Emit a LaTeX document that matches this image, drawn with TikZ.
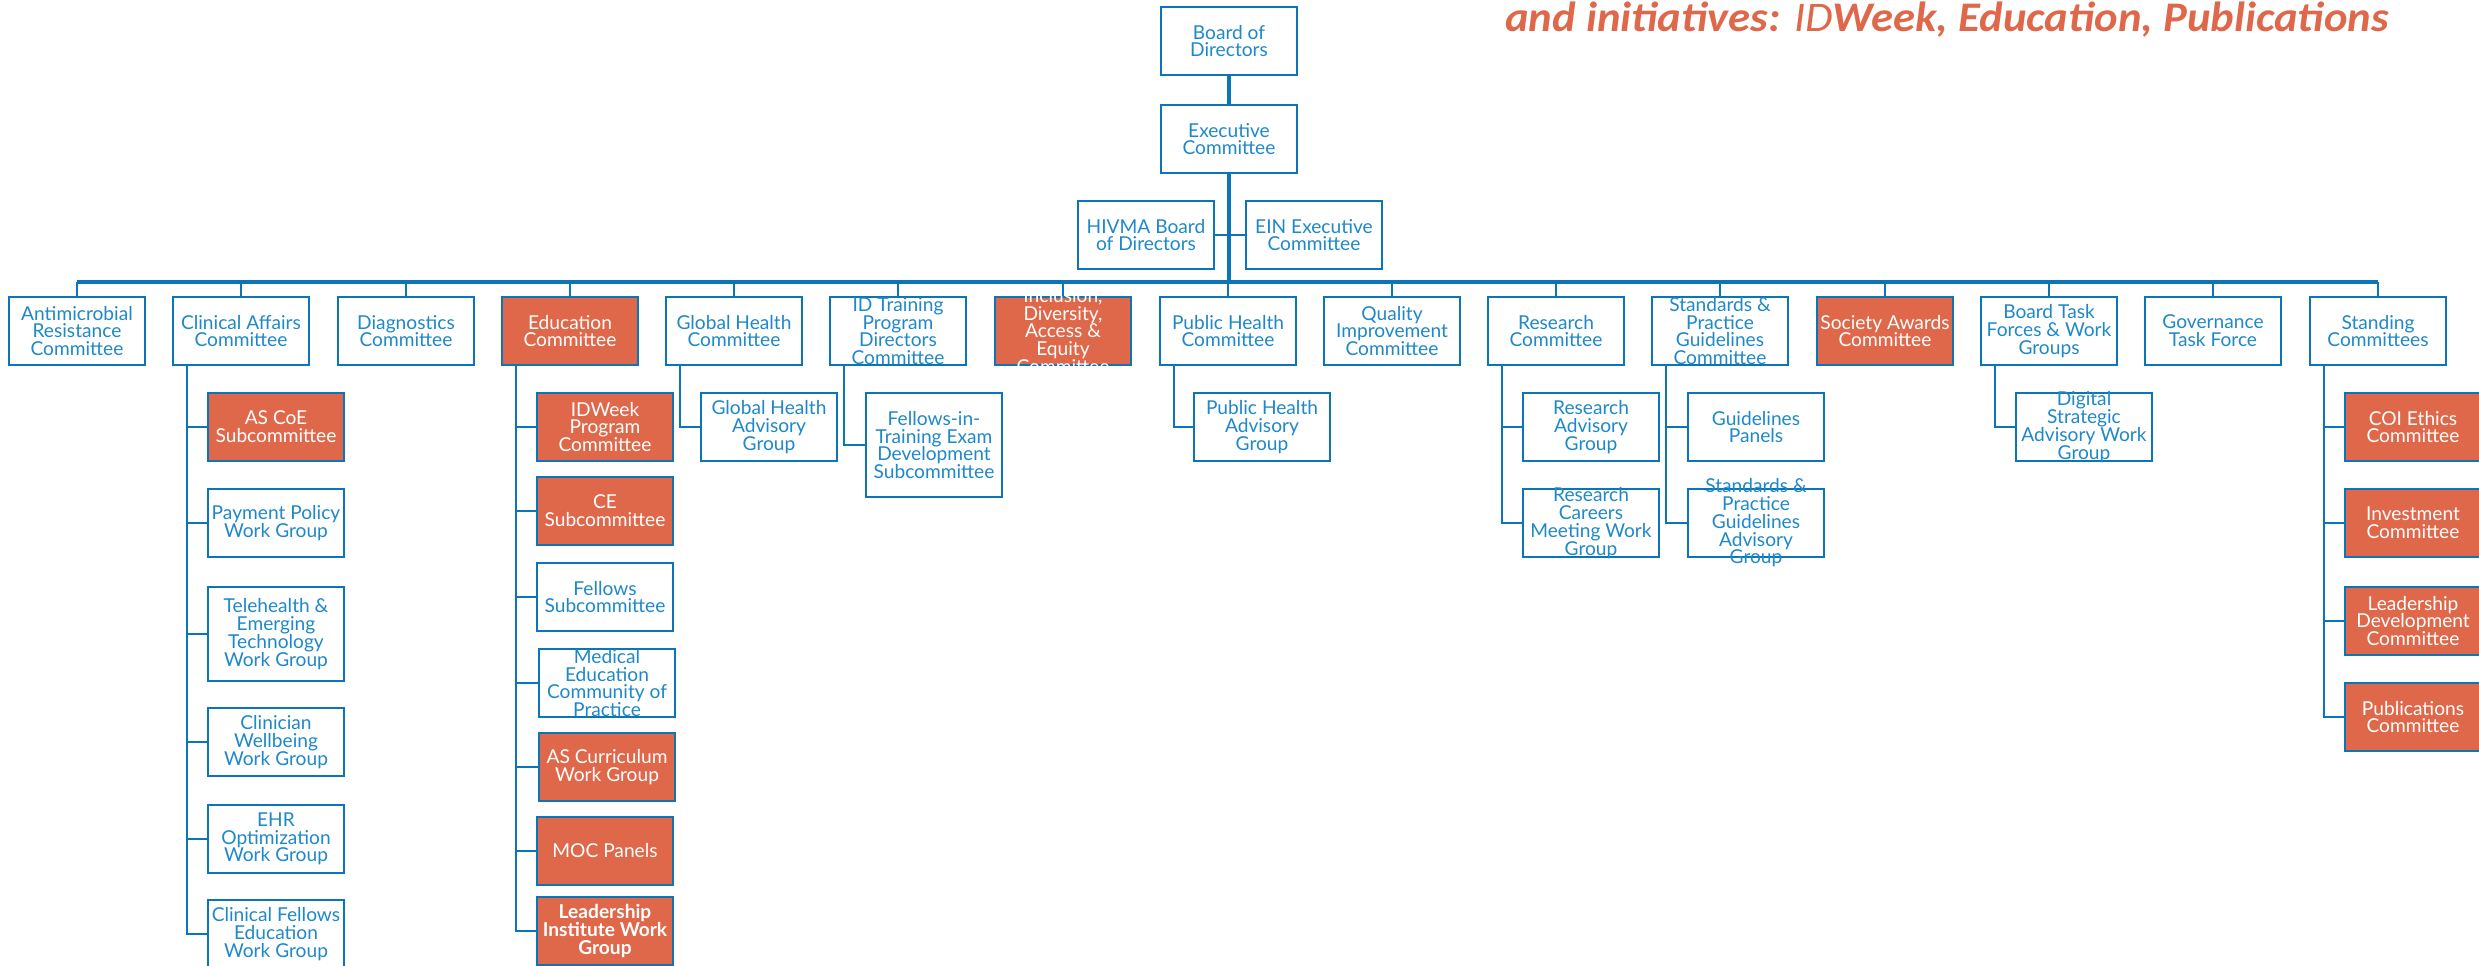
\documentclass[tikz,border=0pt]{standalone}
\usepackage{fontspec}
\setmainfont{Lato}
\newfontfamily\ttlfont{Carlito}
\usepackage{xcolor}
\usepackage{graphicx}
\usepackage{tikz}
\usetikzlibrary{positioning,calc}

\definecolor{orgblue}{RGB}{12,117,184}
\definecolor{orgtext}{RGB}{30,136,200}
\definecolor{orgred}{RGB}{223,104,74}

\begin{document}
\begin{tikzpicture}[x=0.02cm, y=-0.02cm,
      box/.style={rectangle, draw=orgblue, line width=1.4pt,
                  minimum width=2.72cm, minimum height=1.36cm,
                  inner xsep=1pt, inner ysep=-1cm, align=center,
                  text=orgtext, font=\fontsize{10.9}{10.1}\selectfont},
      hot/.style={box, fill=orgred, text=white},
      tall/.style={minimum height=#1},
      link/.style={draw=orgblue, line width=1.3pt},
      bar/.style={link, line width=1.8pt},
      trunk/.style={link, line width=2.6pt},
      ttl/.style={text=orgred, inner sep=0pt,
                  font=\ttlfont\fontsize{24}{24}\selectfont\bfseries\itshape},
    ]
    \useasboundingbox (0,0) rectangle (2479,966);

    % Heading
    \node[ttl, anchor=base west] (ttl) at (1505,32)
      {\scalebox{1.06}[1]{and initiatives: {\mdseries ID}Week, Education, Publications}};

    % Board and executive
    \node[box] (bod) at (1229,41) {Board of\\Directors};
    \node[box] (exec) at (1229,139) {Executive\\Committee};
    \node[box] (hivma) at (1146,235) {HIVMA Board\\of Directors};
    \node[box] (ein) at (1314,235) {EIN Executive\\Committee};
    \coordinate (hub) at (1229,282);

    % Committees
    \node[box] (amr) at (77,331) {Antimicrobial\\Resistance\\Committee};
    \node[box] (clin) at (241,331) {Clinical Affairs\\Committee};
    \node[box] (diag) at (406,331) {Diagnostics\\Committee};
    \node[hot] (edu) at (570,331) {Education\\Committee};
    \node[box] (glob) at (734,331) {Global Health\\Committee};
    \node[box] (idtp) at (898,331) {ID Training\\Program\\Directors\\Committee};
    \node[hot] (idea) at (1063,331) {Inclusion,\\Diversity,\\Access \&\\Equity\\Committee};
    \node[box] (pub) at (1228,331) {Public Health\\Committee};
    \node[box] (qual) at (1392,331) {Quality\\Improvement\\Committee};
    \node[box] (res) at (1556,331) {Research\\Committee};
    \node[box] (spg) at (1720,331) {Standards \&\\Practice\\Guidelines\\Committee};
    \node[hot] (award) at (1885,331) {Society Awards\\Committee};
    \node[box] (btf) at (2049,331) {Board Task\\Forces \& Work\\Groups};
    \node[box] (gov) at (2213,331) {Governance\\Task Force};
    \node[box] (stand) at (2378,331) {Standing\\Committees};

    % Clinical Affairs groups
    \node[hot] (ascoe) at (276,427) {AS CoE\\Subcommittee};
    \node[box] (payp) at (276,523) {Payment Policy\\Work Group};
    \node[box, tall=1.88cm] (teleh) at (276,634) {Telehealth \&\\Emerging\\Technology\\Work Group};
    \node[box] (wellb) at (276,742) {Clinician\\Wellbeing\\Work Group};
    \node[box] (ehr) at (276,839) {EHR\\Optimization\\Work Group};
    \node[box] (cfel) at (276,934) {Clinical Fellows\\Education\\Work Group};

    % Education groups
    \node[hot] (idweek) at (605,427) {IDWeek\\Program\\Committee};
    \node[hot] (ce) at (605,511) {CE\\Subcommittee};
    \node[box] (fsub) at (605,597) {Fellows\\Subcommittee};
    \node[box] (medcp) at (607,683) {Medical\\Education\\Community of\\Practice};
    \node[hot] (ascur) at (607,767) {AS Curriculum\\Work Group};
    \node[hot] (moc) at (605,851) {MOC Panels};
    \node[hot] (liwg) at (605,931) {\bfseries Leadership\\\bfseries Institute Work\\\bfseries Group};

    % Other groups
    \node[box] (ghag) at (769,427) {Global Health\\Advisory\\Group};
    \node[box, tall=2.08cm] (fite) at (934,445) {Fellows-in-\\Training Exam\\Development\\Subcommittee};
    \node[box] (phag) at (1262,427) {Public Health\\Advisory\\Group};
    \node[box] (rag) at (1591,427) {Research\\Advisory\\Group};
    \node[box] (rcm) at (1591,523) {Research\\Careers\\Meeting Work\\Group};
    \node[box] (gpan) at (1756,427) {Guidelines\\Panels};
    \node[box] (spag) at (1756,523) {Standards \&\\Practice\\Guidelines\\Advisory\\Group};
    \node[box] (dsaw) at (2084,427) {Digital\\Strategic\\Advisory Work\\Group};

    % Standing committees
    \node[hot] (coi) at (2413,427) {COI Ethics\\Committee};
    \node[hot] (inv) at (2413,523) {Investment\\Committee};
    \node[hot] (ldc) at (2413,621) {Leadership\\Development\\Committee};
    \node[hot] (pubc) at (2413,717) {Publications\\Committee};

    % Lines: top
    \draw[trunk] (bod) -- (exec);
    \draw[trunk] (exec.south) -- (hub);
    \draw[link] (hivma) -- (ein);
    \draw[bar] (amr.north |- hub) -- (stand.north |- hub);
    \foreach \n in {amr,clin,diag,edu,glob,idtp,idea,pub,qual,res,spg,award,btf,gov,stand}
      \draw[link] (\n.north) -- (\n.north |- hub);

    % Lines: groups
    \foreach \c in {ascoe,payp,teleh,wellb,ehr,cfel}
      \draw[link] ([xshift=0.3cm]clin.south west) |- (\c.west);
    \foreach \c in {idweek,ce,fsub,medcp,ascur,moc,liwg}
      \draw[link] ([xshift=0.3cm]edu.south west) |- (\c.west);
    \draw[link] ([xshift=0.3cm]glob.south west) |- (ghag.west);
    \draw[link] ([xshift=0.3cm]idtp.south west) |- (fite.west);
    \draw[link] ([xshift=0.3cm]pub.south west) |- (phag.west);
    \foreach \c in {rag,rcm}
      \draw[link] ([xshift=0.3cm]res.south west) |- (\c.west);
    \foreach \c in {gpan,spag}
      \draw[link] ([xshift=0.3cm]spg.south west) |- (\c.west);
    \draw[link] ([xshift=0.3cm]btf.south west) |- (dsaw.west);
    \foreach \c in {coi,inv,ldc,pubc}
      \draw[link] ([xshift=0.3cm]stand.south west) |- (\c.west);

\end{tikzpicture}
\end{document}
